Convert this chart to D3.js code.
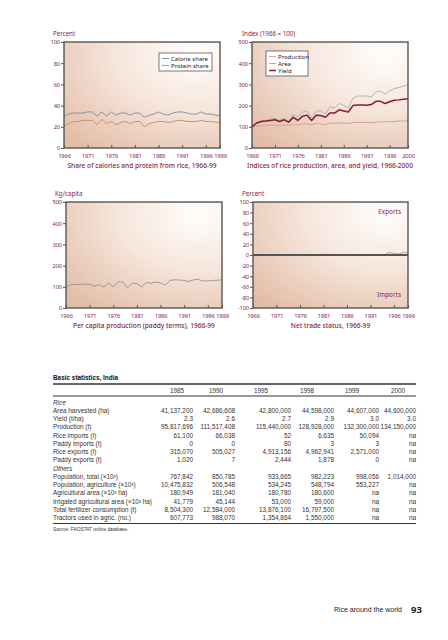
<!DOCTYPE html>
<html><head><meta charset="utf-8">
<script src="https://cdn.jsdelivr.net/npm/d3@7/dist/d3.min.js"></script>
<style>body{margin:0;background:#fff}svg{display:block}</style>
</head><body>
<svg id="page" width="448" height="640"></svg>
<script>
// ---------- DATA ----------
const years6699 = [1966,1967,1968,1969,1970,1971,1972,1973,1974,1975,1976,1977,1978,1979,1980,1981,1982,1983,1984,1985,1986,1987,1988,1989,1990,1991,1992,1993,1994,1995,1996,1997,1998,1999];
const years6600 = [1966,1967,1968,1969,1970,1971,1972,1973,1974,1975,1976,1977,1978,1979,1980,1981,1982,1983,1984,1985,1986,1987,1988,1989,1990,1991,1992,1993,1994,1995,1996,1997,1998,1999,2000];
const ticks6699 = [1966,1971,1976,1981,1986,1991,1996,1999];
const ticks6600 = [1966,1971,1976,1981,1986,1991,1996,2000];

const calorieShare = [30,32,33,33,33,34,34,30,34,30,34,31,33,33,31,33,33,29,31,32,34,32,31,33,34,34,33,32,32,34,32,32,31,30.5];
const proteinShare = [21,23,25,25,26,26,26,22,27,23,25,22,24,25,23,25,25,20,23,24,25,25,24,25,26,26,25,25,25,26,25,25,24.5,24];

const prodIndex  = [100,118,128,130,137,140,130,140,125,160,145,170,175,140,175,175,160,195,190,210,200,190,235,245,245,245,240,265,268,255,270,280,285,292,298];
const areaIndex  = [100,102,104,106,108,108,105,108,107,111,109,113,114,110,115,114,110,118,117,118,118,115,120,121,121,121,119,122,123,124,124,125,127,128,127];
const yieldIndex = [100,118,125,127,130,133,125,133,122,145,130,150,155,130,155,153,145,165,165,180,175,170,200,203,203,202,205,220,220,210,218,225,227,230,232];

const perCapita = [100,110,111,112,112,112,103,110,100,118,100,123,123,95,118,115,100,120,117,123,118,108,130,133,132,130,125,133,135,127,128,130,131,133];

const netTrade = [-1,-1,-0.5,-0.3,-0.2,-0.1,0,0,0,0,0,0.5,0.5,0.5,0.5,1.5,1,0.5,0,0,0.2,0,0,0,0.2,0.5,0.5,0.5,0.5,5,3,2,5,4];

const tableYears = ["1985","1990","1995","1998","1999","2000"];
const riceLabels = ["Area harvested (ha)","Yield (t/ha)","Production (t)","Rice imports (t)","Paddy imports (t)","Rice exports (t)","Paddy exports (t)"];
const riceValues = [
  ["41,137,200","42,686,608","42,800,000","44,598,000","44,607,000","44,600,000"],
  ["2.3","2.6","2.7","2.9","3.0","3.0"],
  ["95,817,696","111,517,408","115,440,000","128,928,000","132,300,000","134,150,000"],
  ["61,100","66,038","52","6,635","50,094","na"],
  ["0","0","80","3","3","na"],
  ["315,070","505,027","4,913,156","4,962,941","2,571,000","na"],
  ["1,020","7","2,444","1,878","0","na"]
];
const otherLabels = ["Population, total (×10³)","Population, agriculture (×10³)","Agricultural area (×10³ ha)","Irrigated agricultural area (×10³ ha)","Total fertilizer consumption (t)","Tractors used in agric. (no.)"];
const otherValues = [
  ["767,842","850,785","933,665","982,223","998,056","1,014,000"],
  ["10,475,832","506,548","534,245","548,794","553,227","na"],
  ["180,949","181,040","180,780","180,600","na","na"],
  ["41,779","45,144","53,000","59,000","na","na"],
  ["8,504,300","12,584,000","13,876,100","16,797,500","na","na"],
  ["607,773","988,070","1,354,864","1,550,000","na","na"]
];

// ---------- STYLE ----------
const MAROON = "#852744";
const FONT = "'Noto Sans', 'Open Sans', sans-serif";
const TFONT = "'Liberation Sans', Arial, sans-serif";
const fmtTick = d => String(d);

const svg = d3.select("#page");
const defs = svg.append("defs");
const grad = defs.append("radialGradient").attr("id","bg")
  .attr("cx","0.85").attr("cy","0.12").attr("r","1.15").attr("fx","0.85").attr("fy","0.12");
grad.append("stop").attr("offset","0").attr("stop-color","#fffdfb");
grad.append("stop").attr("offset","0.45").attr("stop-color","#f6e6dc");
grad.append("stop").attr("offset","1").attr("stop-color","#e2bca5");

function chart(c) {
  const g = svg.append("g");
  const x = d3.scaleLinear().domain(c.xDomain).range([c.left, c.right]);
  const y = d3.scaleLinear().domain(c.yDomain).range([c.bottom, c.top]);
  g.append("rect").attr("x",c.left).attr("y",c.top)
    .attr("width",c.right-c.left).attr("height",c.bottom-c.top)
    .attr("fill","url(#bg)");
  (c.series||[]).forEach(s => {
    g.append("path").datum(s.values)
      .attr("fill","none").attr("stroke",s.color).attr("stroke-width",s.width||1)
      .attr("stroke-linejoin","round")
      .attr("d", d3.line().x((d,i)=>x(c.years[i])).y(d=>y(d)));
  });
  if (c.zeroLine) {
    g.append("line").attr("x1",c.left).attr("x2",c.right)
      .attr("y1",y(0)).attr("y2",y(0)).attr("stroke","#555").attr("stroke-width",2);
  }
  g.append("rect").attr("x",c.left).attr("y",c.top)
    .attr("width",c.right-c.left).attr("height",c.bottom-c.top)
    .attr("fill","none").attr("stroke","#555").attr("stroke-width",1.4);
  const ya = g.append("g").attr("transform",`translate(${c.left},0)`)
    .call(d3.axisLeft(y).tickValues(c.yTicks).tickSize(3).tickPadding(1).tickFormat(fmtTick));
  const xa = g.append("g").attr("transform",`translate(0,${c.bottom})`)
    .call(d3.axisBottom(x).tickValues(c.xTicks).tickSize(-3).tickPadding(6).tickFormat(fmtTick));
  [ya,xa].forEach(a => {
    a.select(".domain").remove();
    a.selectAll(".tick line").attr("stroke","#555");
    a.selectAll("text").attr("fill",MAROON).attr("font-family",FONT).attr("font-size",5.8)
      .attr("letter-spacing",-0.15);
  });
  g.append("text").attr("x",c.labelX).attr("y",c.top-6).text(c.yLabel)
    .attr("fill",MAROON).attr("font-family",FONT).attr("font-size",6.2);
  g.append("text").attr("x",(c.left+c.right)/2).attr("y",c.bottom+20).text(c.title)
    .attr("text-anchor","middle").attr("fill",MAROON).attr("font-family",FONT)
    .attr("font-size",6.6).attr("font-weight",500);
  return {g,x,y};
}

function legend(g, x0, y0, w, items) {
  const h = items.length*7 + 4;
  g.append("rect").attr("x",x0).attr("y",y0).attr("width",w).attr("height",h)
    .attr("fill","#fff").attr("stroke","#222").attr("stroke-width",0.6);
  items.forEach((it,i) => {
    const yy = y0 + 5.5 + i*7;
    g.append("line").attr("x1",x0+3).attr("x2",x0+10).attr("y1",yy).attr("y2",yy)
      .attr("stroke",it.color).attr("stroke-width",it.width||1);
    g.append("text").attr("x",x0+12).attr("y",yy+2).text(it.name)
      .attr("font-family",FONT).attr("font-size",6).attr("fill","#222");
  });
}

// Chart 1
const c1 = chart({left:64,right:220,top:42,bottom:148,labelX:53,
  xDomain:[1966,1999],yDomain:[0,100],yTicks:[0,20,40,60,80,100],xTicks:ticks6699,years:years6699,
  yLabel:"Percent",title:"Share of calories and protein from rice, 1966-99",
  series:[{values:calorieShare,color:"#8d92a0"},{values:proteinShare,color:"#c98f78"}]});
legend(c1.g,159,53,53,[{name:"Calorie share",color:"#8d92a0"},{name:"Protein share",color:"#c98f78"}]);

// Chart 2
const c2 = chart({left:252,right:408,top:42,bottom:148,labelX:242,
  xDomain:[1966,2000],yDomain:[0,500],yTicks:[0,100,200,300,400,500],xTicks:ticks6600,years:years6600,
  yLabel:"Index (1966 = 100)",title:"Indices of rice production, area, and yield, 1966-2000",
  series:[{values:prodIndex,color:"#b4b4b6"},{values:areaIndex,color:"#cfa58f"},{values:yieldIndex,color:"#8c1a2c",width:1.5}]});
legend(c2.g,266,51,42,[{name:"Production",color:"#b4b4b6"},{name:"Area",color:"#cfa58f"},{name:"Yield",color:"#8c1a2c",width:1.5}]);

// Chart 3
chart({left:66,right:222,top:202,bottom:308,labelX:55,
  xDomain:[1966,1999],yDomain:[0,500],yTicks:[0,100,200,300,400,500],xTicks:ticks6699,years:years6699,
  yLabel:"Kg/capita",title:"Per capita production (paddy terms), 1966-99",
  series:[{values:perCapita,color:"#9c9a9c"}]});

// Chart 4
const c4 = chart({left:253,right:408,top:202,bottom:308,labelX:242,
  xDomain:[1966,1999],yDomain:[-100,100],yTicks:[-100,-80,-60,-40,-20,0,20,40,60,80,100],xTicks:ticks6699,years:years6699,
  yLabel:"Percent",title:"Net trade status, 1966-99",zeroLine:true,
  series:[{values:netTrade,color:"#aaaaaa"}]});
c4.g.append("text").attr("x",401).attr("y",214).attr("text-anchor","end").text("Exports")
  .attr("fill",MAROON).attr("font-family",FONT).attr("font-size",6.4);
c4.g.append("text").attr("x",401).attr("y",297).attr("text-anchor","end").text("Imports")
  .attr("fill",MAROON).attr("font-family",FONT).attr("font-size",6.4);

// ---------- TABLE ----------
const T = svg.append("g").attr("font-family",TFONT).attr("font-size",6.4).attr("fill","#333");
const tL = 53, tR = 416;
const colRight = [193,235,291,334,379,416];
const headX = [177,216,261,307,352,398];
T.append("text").attr("x",tL).attr("y",380).text("Basic statistics, India")
  .attr("font-weight","bold").attr("fill","#111");
T.append("line").attr("x1",tL).attr("x2",tR).attr("y1",384).attr("y2",384).attr("stroke","#333").attr("stroke-width",1.4);
tableYears.forEach((yv,i)=>T.append("text").attr("x",headX[i]).attr("y",392.5).attr("text-anchor","middle").text(yv));
T.append("line").attr("x1",tL).attr("x2",tR).attr("y1",396).attr("y2",396).attr("stroke","#333").attr("stroke-width",1);
const rowH = 8.25;
let yRow = 404.5;
function section(name, labels, values) {
  T.append("text").attr("x",tL).attr("y",yRow).text(name).attr("font-style","italic");
  yRow += rowH;
  labels.forEach((lab,r)=>{
    T.append("text").attr("x",tL).attr("y",yRow).text(lab);
    values[r].forEach((v,i)=>T.append("text").attr("x",colRight[i]).attr("y",yRow)
      .attr("text-anchor","end").text(v));
    yRow += rowH;
  });
}
section("Rice", riceLabels, riceValues);
section("Others", otherLabels, otherValues);
const bottomRule = yRow - rowH + 3.5;
T.append("line").attr("x1",tL).attr("x2",tR).attr("y1",bottomRule).attr("y2",bottomRule).attr("stroke","#333").attr("stroke-width",1);
T.append("text").attr("x",tL).attr("y",bottomRule+7).text("Source: FAOSTAT online database.").attr("font-size",4.8);

// ---------- FOOTER ----------
svg.append("text").attr("x",402).attr("y",612).attr("text-anchor","end").text("Rice around the world")
  .attr("font-family",TFONT).attr("font-size",7).attr("fill","#222");
svg.append("text").attr("x",411).attr("y",612.5).text("93")
  .attr("font-family",FONT).attr("font-size",9.5).attr("font-weight","bold").attr("fill","#222");
</script>
</body></html>
